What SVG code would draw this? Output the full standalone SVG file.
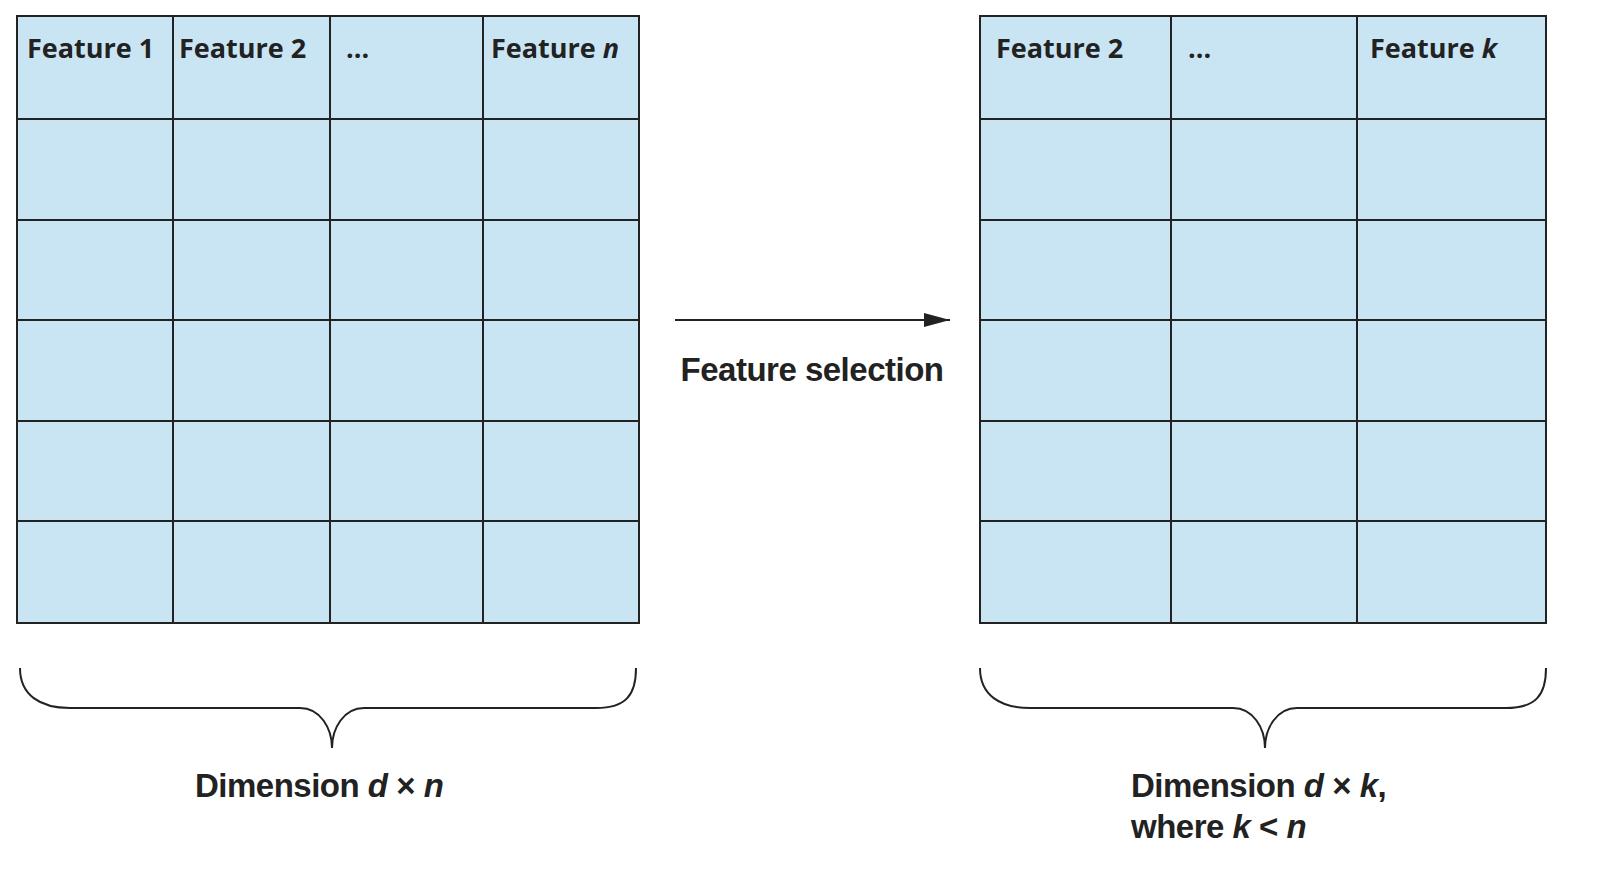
<svg xmlns="http://www.w3.org/2000/svg" width="1598" height="874" viewBox="0 0 1598 874">
<style>
.c{fill:#c9e5f3;stroke:#222;stroke-width:2}
.l{stroke:#222;stroke-width:2;fill:none}
.h{font-family:"Open Sans","Liberation Sans",sans-serif;font-weight:bold;font-size:27px;fill:#222}
.t{font-family:"Liberation Sans",sans-serif;font-weight:bold;font-size:33px;fill:#222;letter-spacing:-0.5px}
</style>
<defs><marker id="a" markerWidth="26" markerHeight="14" refX="26" refY="7" orient="auto" markerUnits="userSpaceOnUse"><path d="M0,0L26,7L0,14z" fill="#222"/></marker></defs>
<g id="left-table">
<rect class="c" x="17" y="16" width="622" height="607"/>
<path class="l" d="M173,16V623M330,16V623M483,16V623M17,119H639M17,220H639M17,320H639M17,421H639M17,521H639"/>
<text class="h" x="27" y="58">Feature 1</text>
<text class="h" x="179" y="58">Feature 2</text>
<text class="h" x="346" y="58">...</text>
<text class="h" x="491" y="58">Feature <tspan font-style="italic">n</tspan></text>
</g>
<g id="right-table">
<rect class="c" x="980" y="16" width="566" height="607"/>
<path class="l" d="M1171,16V623M1357,16V623M980,119H1546M980,220H1546M980,320H1546M980,421H1546M980,521H1546"/>
<text class="h" x="996" y="58">Feature 2</text>
<text class="h" x="1188" y="58">...</text>
<text class="h" x="1370" y="58">Feature <tspan font-style="italic">k</tspan></text>
</g>
<g id="connectors">
<line class="l" x1="675" y1="320" x2="950" y2="320" marker-end="url(#a)"/>
<path class="l" d="M20,668C20,695 40,708 70,708H300C320,708 332,728 332,748C332,728 344,708 364,708H596C626,708 636,695 636,668"/>
<path class="l" d="M980,668C980,695 1000,708 1030,708H1233C1253,708 1265,728 1265,748C1265,728 1277,708 1297,708H1506C1536,708 1546,695 1546,668"/>
</g>
<g id="labels">
<text class="t" x="812" y="381" text-anchor="middle">Feature selection</text>
<text class="t" x="195" y="797">Dimension <tspan font-style="italic">d</tspan> × <tspan font-style="italic">n</tspan></text>
<text class="t" x="1131" y="797">Dimension <tspan font-style="italic">d</tspan> × <tspan font-style="italic">k</tspan>,</text>
<text class="t" x="1131" y="838">where <tspan font-style="italic">k</tspan> &lt; <tspan font-style="italic">n</tspan></text>
</g>
</svg>
